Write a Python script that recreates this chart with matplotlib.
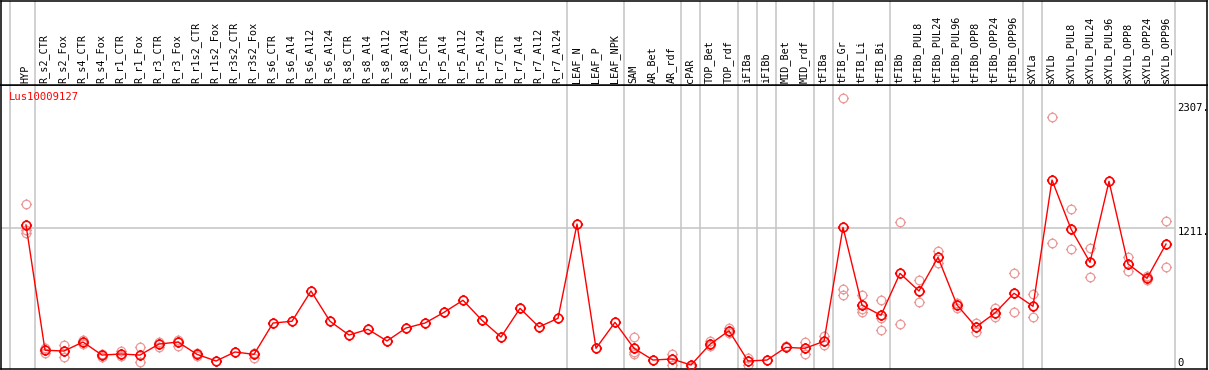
import matplotlib
matplotlib.use('Agg')
import matplotlib.pyplot as plt
import numpy as np
from matplotlib.path import Path
import matplotlib.transforms as mtransforms

# ---------------- data ----------------
gene_id = "Lus10009127"

samples = [
    "HYP",
    "R_s2_CTR", "R_s2_Fox", "R_s4_CTR", "R_s4_Fox", "R_r1_CTR", "R_r1_Fox",
    "R_r3_CTR", "R_r3_Fox", "R_r1s2_CTR", "R_r1s2_Fox", "R_r3s2_CTR", "R_r3s2_Fox",
    "R_s6_CTR", "R_s6_Al4", "R_s6_Al12", "R_s6_Al24",
    "R_s8_CTR", "R_s8_Al4", "R_s8_Al12", "R_s8_Al24",
    "R_r5_CTR", "R_r5_Al4", "R_r5_Al12", "R_r5_Al24",
    "R_r7_CTR", "R_r7_Al4", "R_r7_Al12", "R_r7_Al24",
    "LEAF_N", "LEAF_P", "LEAF_NPK",
    "SAM", "AR_Bet", "AR_rdf",
    "cPAR",
    "TOP_Bet", "TOP_rdf",
    "iFIBa", "iFIBb",
    "MID_Bet", "MID_rdf",
    "tFIBa",
    "tFIB_Gr", "tFIB_Li", "tFIB_Bi",
    "tFIBb", "tFIBb_PUL8", "tFIBb_PUL24", "tFIBb_PUL96", "tFIBb_OPP8", "tFIBb_OPP24", "tFIBb_OPP96",
    "sXYLa",
    "sXYLb", "sXYLb_PUL8", "sXYLb_PUL24", "sXYLb_PUL96", "sXYLb_OPP8", "sXYLb_OPP24", "sXYLb_OPP96",
]

mean_values = [
    1239,
    183, 176, 252, 142, 151, 142,
    235, 252, 148, 92, 168, 148,
    412, 427, 682, 427,
    311, 359, 261, 370,
    412, 502, 604, 435,
    294, 536, 379, 452,
    1247, 199, 418,
    199, 100, 109,
    58,
    233, 347,
    92, 100,
    207, 199,
    258,
    1219, 562, 477,
    831, 682, 966, 564, 379, 497, 663,
    553,
    1618, 1205, 924, 1607, 910, 789, 1078,
]

replicates = [
    [1416, 1196, 1169],
    [200, 157], [227, 128], [269, 233], [153, 128], [179, 137], [207, 81],
    [255, 212], [269, 218], [162, 134], [], [], [162, 120],
    [], [], [], [],
    [], [], [], [],
    [], [], [], [],
    [], [], [], [],
    [], [], [],
    [294, 170, 148], [], [153, 58],
    [44],
    [261, 218], [373, 325],
    [120, 58], [],
    [218], [252, 153],
    [303, 227],
    [2307, 699, 648], [648, 528, 505], [606, 457, 351],
    [1264, 404], [772, 587], [1019, 916], [583, 541], [415, 339], [536, 465], [831, 502],
    [657, 460],
    [2147, 1084], [1371, 1036], [1042, 798], [], [966, 853], [811, 775], [1272, 882],
]

group_sizes = [1, 28, 3, 3, 1, 2, 1, 1, 2, 1, 3, 7, 1, 7]

y_tick_values = [2307, 1211, 0]
y_tick_labels = ["2307.", "1211.", "0"]

# ---------------- style ----------------
W, H = 1209, 370
fig = plt.figure(figsize=(W / 100, H / 100), dpi=100)
fig.patch.set_facecolor("white")

mono = "DejaVu Sans Mono"
grid_col = "#c4c4c4"
red = "#ff0000"
pink = "#eb9a9a"

# pixel geometry
x_left_px, x_right_px = 1, 1207
y_sep_px, y_bot_px = 85, 369
col_px0, col_step = 26.0, 19.0

xlim = ((x_left_px - col_px0) / col_step, (x_right_px - col_px0) / col_step)
ylim = (24.5, 2419)

ax = fig.add_axes([x_left_px / W, (H - y_bot_px) / H,
                   (x_right_px - x_left_px) / W, (y_bot_px - y_sep_px) / H])
hax = fig.add_axes([x_left_px / W, (H - y_sep_px) / H,
                    (x_right_px - x_left_px) / W, (y_sep_px - 0.5) / H])

for a in (ax, hax):
    a.set_xlim(*xlim)
    a.set_xticks([])
    a.set_yticks([])
    for s in a.spines.values():
        s.set_color("black")
        s.set_linewidth(1.1)
ax.set_ylim(*ylim)
hax.set_ylim(0, 1)

# group separators
ends = np.cumsum(group_sizes) - 1
offset = (col_step / 2 - 0.5) / col_step
sep_x = [-0.82] + [e + offset for e in ends]
for a in (ax, hax):
    for sx in sep_x:
        a.axvline(sx, color=grid_col, lw=1.1, zorder=0)

# horizontal grid at middle value
ax.hlines(y_tick_values[1], xlim[0], sep_x[-1], color=grid_col, lw=1.1, zorder=0)

# custom marker: circle with four small ticks
circ = Path.unit_circle()
t0, t1 = 1.0, 1.3
ticks = Path([(0, t0), (0, t1), (0, -t0), (0, -t1), (t0, 0), (t1, 0), (-t0, 0), (-t1, 0)],
             [Path.MOVETO, Path.LINETO] * 4)
marker_path = Path.make_compound_path(circ, ticks)

x = np.arange(len(samples))

# replicates
rx, ry = [], []
for i, reps in enumerate(replicates):
    for r in reps:
        rx.append(x[i])
        ry.append(r)
ax.plot(rx, ry, linestyle="none", marker=marker_path, markersize=8.0,
        markerfacecolor="none", markeredgecolor=pink, markeredgewidth=0.9, zorder=2)

# main series
ax.plot(x, mean_values, color=red, lw=1.0, zorder=3)
ax.plot(x, mean_values, linestyle="none", marker=marker_path, markersize=8.0,
        markerfacecolor="none", markeredgecolor=red, markeredgewidth=1.2, zorder=4)

# header labels
htrans = mtransforms.blended_transform_factory(hax.transData, hax.transAxes)
for i, lab in enumerate(samples):
    hax.text(x[i] - 0.05, 2.0 / 85, lab, rotation=90, ha="center", va="bottom",
             fontsize=7.3, family=mono, color="black", transform=htrans)

# gene id
ax.text(8.3 / (x_right_px - x_left_px), 1 - 12.3 / (y_bot_px - y_sep_px), gene_id,
        transform=ax.transAxes, ha="left", va="center", fontsize=7.6,
        family=mono, color=red)

# y value labels on the right
ytrans = mtransforms.blended_transform_factory(ax.transAxes, ax.transData)
label_offsets_px = [-9.4, -3.9, 9.2]
xl = (1177.5 - x_left_px) / (x_right_px - x_left_px)
for v, lab, off in zip(y_tick_values, y_tick_labels, label_offsets_px):
    ax.annotate(lab, xy=(xl, v), xycoords=ytrans, xytext=(0, off * 0.72),
                textcoords="offset points", ha="left", va="center",
                fontsize=7.6, family=mono, color="black", annotation_clip=False)

fig.savefig("out.png", dpi=100, facecolor="white")
